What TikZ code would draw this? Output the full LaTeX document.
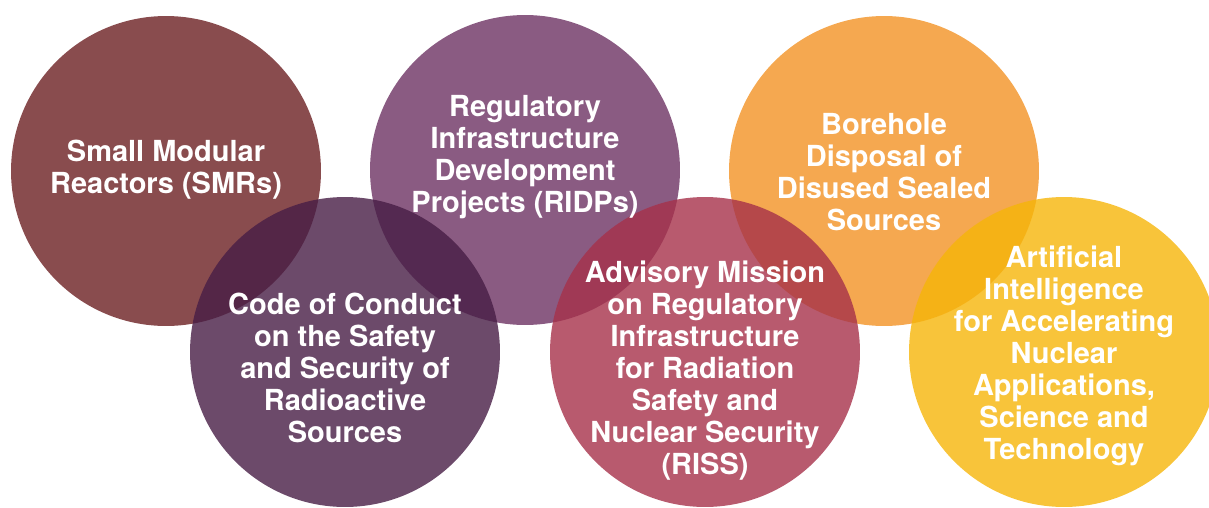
\documentclass[tikz,border=0pt]{standalone}
\usepackage{fontspec}
\setmainfont{TeX Gyre Heros}
\usepackage{tikz}
\definecolor{smrcol}{RGB}{108,31,34}
\definecolor{ridpcol}{RGB}{109,50,99}
\definecolor{borecol}{RGB}{242,146,36}
\definecolor{codecol}{RGB}{71,29,69}
\definecolor{rissCol}{RGB}{166,49,74}
\definecolor{aicol}{RGB}{246,181,9}
\tikzstyle{topic}=[circle,minimum size=6.2cm,inner sep=0pt,fill opacity=0.8]
\tikzstyle{label}=[text=white,align=center,font=\fontsize{16.5}{18.2}\selectfont\bfseries]

\begin{document}
\begin{tikzpicture}[x=0.02cm,y=-0.02cm]
  \useasboundingbox (0,0) rectangle (1209,507);
  % upper row
  \node[topic,fill=smrcol] (SMR) at (166,171) {};
  \node[topic,fill=ridpcol] (RIDP) at (525,170) {};
  \node[topic,fill=borecol] (BORE) at (884,171) {};
  % lower row
  \node[topic,fill=codecol] (CODE) at (345,352) {};
  \node[topic,fill=rissCol] (RISS) at (705,352) {};
  \node[topic,fill=aicol] (AI) at (1064,352) {};

  \node[label] (tSMR) at (166,170) {Small Modular\\Reactors (SMRs)};
  \node[label] (tRIDP) at (525,157) {Regulatory\\Infrastructure\\Development\\Projects (RIDPs)};
  \node[label] (tBORE) at (884,172) {Borehole\\Disposal of\\Disused Sealed\\Sources};
  \node[label] (tCODE) at (345,368) {Code of Conduct\\on the Safety\\and Security of\\Radioactive\\Sources};
  \node[label] (tRISS) at (705,371) {Advisory Mission\\on Regulatory\\Infrastructure\\for Radiation\\Safety and\\Nuclear Security\\(RISS)};
  \node[label] (tAI) at (1064,356) {Artificial\\Intelligence\\for Accelerating\\Nuclear\\Applications,\\Science and\\Technology};
\end{tikzpicture}
\end{document}
